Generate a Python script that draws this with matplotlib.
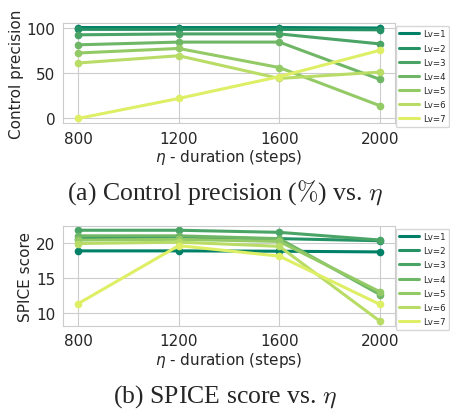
import numpy as np
import matplotlib
matplotlib.use('Agg')
import matplotlib.pyplot as plt
import seaborn as sns
from matplotlib.lines import Line2D

steps = [800, 1200, 1600, 2000]
levels = ['Lv=1', 'Lv=2', 'Lv=3', 'Lv=4', 'Lv=5', 'Lv=6', 'Lv=7']

# control precision (%)
prec_lv1 = [100, 100, 100, 99.5]
prec_lv2 = [98, 98, 98, 97.5]
prec_lv3 = [92, 93, 93, 82]
prec_lv4 = [81, 84, 84, 43]
prec_lv5 = [72, 77, 56, 14]
prec_lv6 = [61, 69, 44, 51]
prec_lv7 = [0, 22, 46, 75]

# SPICE score
spice_lv1 = [18.85, 18.85, 18.8, 18.7]
spice_lv2 = [20.6, 20.7, 20.6, 20.3]
spice_lv3 = [21.8, 21.8, 21.5, 20.4]
spice_lv4 = [21.0, 21.0, 20.6, 12.6]
spice_lv5 = [20.4, 20.5, 20.2, 13.0]
spice_lv6 = [19.9, 20.1, 19.5, 8.8]
spice_lv7 = [11.3, 19.6, 18.1, 11.2]

prec = [prec_lv1, prec_lv2, prec_lv3, prec_lv4, prec_lv5, prec_lv6, prec_lv7]
spice = [spice_lv1, spice_lv2, spice_lv3, spice_lv4, spice_lv5, spice_lv6, spice_lv7]

sns.set_style('whitegrid')
plt.rcParams['font.family'] = ['DejaVu Sans']
colors = plt.cm.summer(np.linspace(0.0, 0.87, 7))

fig = plt.figure(figsize=(4.5, 4.1), dpi=100)
ax1 = fig.add_axes([63/450, 1-124/410, 332/450, 100/410])
ax2 = fig.add_axes([63/450, 1-326.7/410, 332/450, 100/410])

for ax, data, ylab in [(ax1, prec, 'Control precision'), (ax2, spice, 'SPICE score')]:
    for i in range(7):
        ax.plot(steps, data[i], color=colors[i], lw=2.2, marker='o', ms=4.5)
    ax.set_xticks(steps)
    ax.set_xlabel(r'$\eta$ - duration (steps)', fontsize=11, labelpad=1)
    ax.set_ylabel(ylab, fontsize=11, labelpad=2)
    ax.tick_params(labelsize=11, pad=2)
    for s in ax.spines.values():
        s.set_color('#cccccc')
    handles = [Line2D([0], [0], color=colors[i], lw=2.2) for i in range(7)]
    ax.legend(handles, levels, loc='upper left', bbox_to_anchor=(1.002, 0.97),
              fontsize=6.2, handlelength=2.3, handletextpad=0.5, borderpad=0.4,
              borderaxespad=0.0, labelspacing=0.6, frameon=True)

ax1.set_yticks([0, 50, 100])
ax2.set_yticks([10, 15, 20])

fig.text(0.5, 1-193/410, r'(a) Control precision ($\%$) vs. $\eta$', ha='center', va='center',
         fontsize=18.5, family='Liberation Serif', math_fontfamily='cm')
fig.text(0.5, 1-397/410, r'(b) SPICE score vs. $\eta$', ha='center', va='center',
         fontsize=18.5, family='Liberation Serif', math_fontfamily='cm')

fig.savefig('out.png', dpi=100)
